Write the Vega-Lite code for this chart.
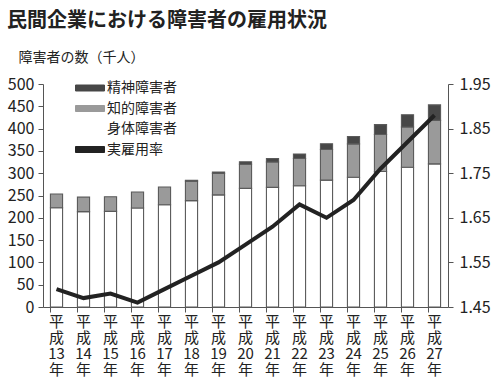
{
  "$schema": "https://vega.github.io/schema/vega-lite/v6.json",
  "width": 405,
  "height": 223,
  "autosize": {"type": "none"},
  "padding": {"left": 43, "top": 84, "right": 51, "bottom": 78},
  "background": "white",
  "config": {
    "view": {"stroke": null},
    "font": "Noto Sans CJK JP",
    "axis": {"domainColor": "#555", "tickColor": "#555", "labelColor": "#222", "grid": false, "domainWidth": 1, "tickWidth": 1},
    "legend": {
      "orient": "none",
      "legendX": 40,
      "legendY": -3,
      "padding": 0,
      "symbolSize": 100,
      "symbolType": "M-2.9,-0.6H2.9V0.6H-2.9Z",
      "symbolStrokeColor": "#555",
      "symbolStrokeWidth": 1,
      "symbolOpacity": 1,
      "labelFontSize": 14,
      "labelColor": "#222",
      "labelOffset": 10,
      "rowPadding": 6.5
    }
  },
  "title": {
    "text": "民間企業における障害者の雇用状況",
    "anchor": "start",
    "frame": "group",
    "fontSize": 20,
    "fontWeight": "bold",
    "color": "#222",
    "dx": -36,
    "dy": -19,
    "offset": 0
  },
  "datasets": {
    "counts": [
      {"year": "平成13年", "type": "身体障害者", "count": 222.5},
      {"year": "平成13年", "type": "知的障害者", "count": 31.0},
      {"year": "平成14年", "type": "身体障害者", "count": 213.9},
      {"year": "平成14年", "type": "知的障害者", "count": 32.4},
      {"year": "平成15年", "type": "身体障害者", "count": 214.3},
      {"year": "平成15年", "type": "知的障害者", "count": 32.8},
      {"year": "平成16年", "type": "身体障害者", "count": 222.0},
      {"year": "平成16年", "type": "知的障害者", "count": 35.9},
      {"year": "平成17年", "type": "身体障害者", "count": 229.3},
      {"year": "平成17年", "type": "知的障害者", "count": 39.7},
      {"year": "平成18年", "type": "身体障害者", "count": 238.5},
      {"year": "平成18年", "type": "知的障害者", "count": 43.7},
      {"year": "平成18年", "type": "精神障害者", "count": 1.9},
      {"year": "平成19年", "type": "身体障害者", "count": 251.3},
      {"year": "平成19年", "type": "知的障害者", "count": 48.3},
      {"year": "平成19年", "type": "精神障害者", "count": 3.1},
      {"year": "平成20年", "type": "身体障害者", "count": 266.0},
      {"year": "平成20年", "type": "知的障害者", "count": 54.1},
      {"year": "平成20年", "type": "精神障害者", "count": 5.5},
      {"year": "平成21年", "type": "身体障害者", "count": 268.3},
      {"year": "平成21年", "type": "知的障害者", "count": 56.8},
      {"year": "平成21年", "type": "精神障害者", "count": 7.7},
      {"year": "平成22年", "type": "身体障害者", "count": 271.8},
      {"year": "平成22年", "type": "知的障害者", "count": 61.0},
      {"year": "平成22年", "type": "精神障害者", "count": 10.3},
      {"year": "平成23年", "type": "身体障害者", "count": 284.4},
      {"year": "平成23年", "type": "知的障害者", "count": 68.7},
      {"year": "平成23年", "type": "精神障害者", "count": 13.0},
      {"year": "平成24年", "type": "身体障害者", "count": 291.0},
      {"year": "平成24年", "type": "知的障害者", "count": 74.7},
      {"year": "平成24年", "type": "精神障害者", "count": 16.6},
      {"year": "平成25年", "type": "身体障害者", "count": 303.8},
      {"year": "平成25年", "type": "知的障害者", "count": 82.9},
      {"year": "平成25年", "type": "精神障害者", "count": 22.2},
      {"year": "平成26年", "type": "身体障害者", "count": 313.3},
      {"year": "平成26年", "type": "知的障害者", "count": 90.2},
      {"year": "平成26年", "type": "精神障害者", "count": 27.7},
      {"year": "平成27年", "type": "身体障害者", "count": 320.8},
      {"year": "平成27年", "type": "知的障害者", "count": 97.7},
      {"year": "平成27年", "type": "精神障害者", "count": 34.6}
    ],
    "rate": [
      {"year": "平成13年", "rate": 1.49},
      {"year": "平成14年", "rate": 1.47},
      {"year": "平成15年", "rate": 1.48},
      {"year": "平成16年", "rate": 1.46},
      {"year": "平成17年", "rate": 1.49},
      {"year": "平成18年", "rate": 1.52},
      {"year": "平成19年", "rate": 1.55},
      {"year": "平成20年", "rate": 1.59},
      {"year": "平成21年", "rate": 1.63},
      {"year": "平成22年", "rate": 1.68},
      {"year": "平成23年", "rate": 1.65},
      {"year": "平成24年", "rate": 1.69},
      {"year": "平成25年", "rate": 1.76},
      {"year": "平成26年", "rate": 1.82},
      {"year": "平成27年", "rate": 1.88}
    ]
  },
  "layer": [
    {
      "data": {"name": "counts"},
      "transform": [
        {"calculate": "indexof(['身体障害者','知的障害者','精神障害者'], datum.type)", "as": "stackOrder"}
      ],
      "mark": {"type": "bar", "stroke": "#5a5a5a", "strokeWidth": 1.1},
      "encoding": {
        "x": {
          "field": "year", "type": "ordinal",
          "scale": {"paddingInner": 0.55, "paddingOuter": 0.275},
          "axis": {
            "title": null,
            "labelAngle": 0,
            "labelExpr": "['平','成',slice(datum.label,2,4),'年']",
            "labelLineHeight": 16,
            "labelFontSize": 15,
            "labelBaseline": "top",
            "labelPadding": 2,
            "labelOverlap": false,
            "bandPosition": 0,
            "tickSize": 5
          }
        },
        "y": {
          "field": "count", "type": "quantitative",
          "scale": {"domain": [0, 500]},
          "axis": {
            "title": "障害者の数（千人）",
            "titleAngle": 0,
            "titleAlign": "left",
            "titleBaseline": "middle",
            "titleX": -25,
            "titleY": -27,
            "titleFontSize": 14,
            "titleFontWeight": "normal",
            "titleColor": "#222",
            "values": [0, 50, 100, 150, 200, 250, 300, 350, 400, 450, 500],
            "labelFontSize": 16,
            "tickSize": 5,
            "labelPadding": 4
          }
        },
        "color": {
          "field": "type", "type": "nominal",
          "scale": {
            "domain": ["精神障害者", "知的障害者", "身体障害者", "実雇用率"],
            "range": ["#474747", "#9a9a9a", "#ffffff", "#222222"]
          },
          "legend": {"title": null}
        },
        "order": {"field": "stackOrder", "type": "quantitative"}
      }
    },
    {
      "data": {"name": "rate"},
      "mark": {"type": "line", "strokeWidth": 4, "strokeJoin": "miter"},
      "encoding": {
        "x": {"field": "year", "type": "ordinal"},
        "y": {
          "field": "rate", "type": "quantitative",
          "scale": {"domain": [1.45, 1.95], "zero": false},
          "axis": {
            "orient": "right",
            "title": null,
            "values": [1.45, 1.55, 1.65, 1.75, 1.85, 1.95],
            "format": ".2f",
            "labelFontSize": 16,
            "tickSize": 5,
            "labelPadding": 6
          }
        },
        "color": {"datum": "実雇用率", "type": "nominal"}
      }
    }
  ],
  "resolve": {"scale": {"y": "independent"}}
}
